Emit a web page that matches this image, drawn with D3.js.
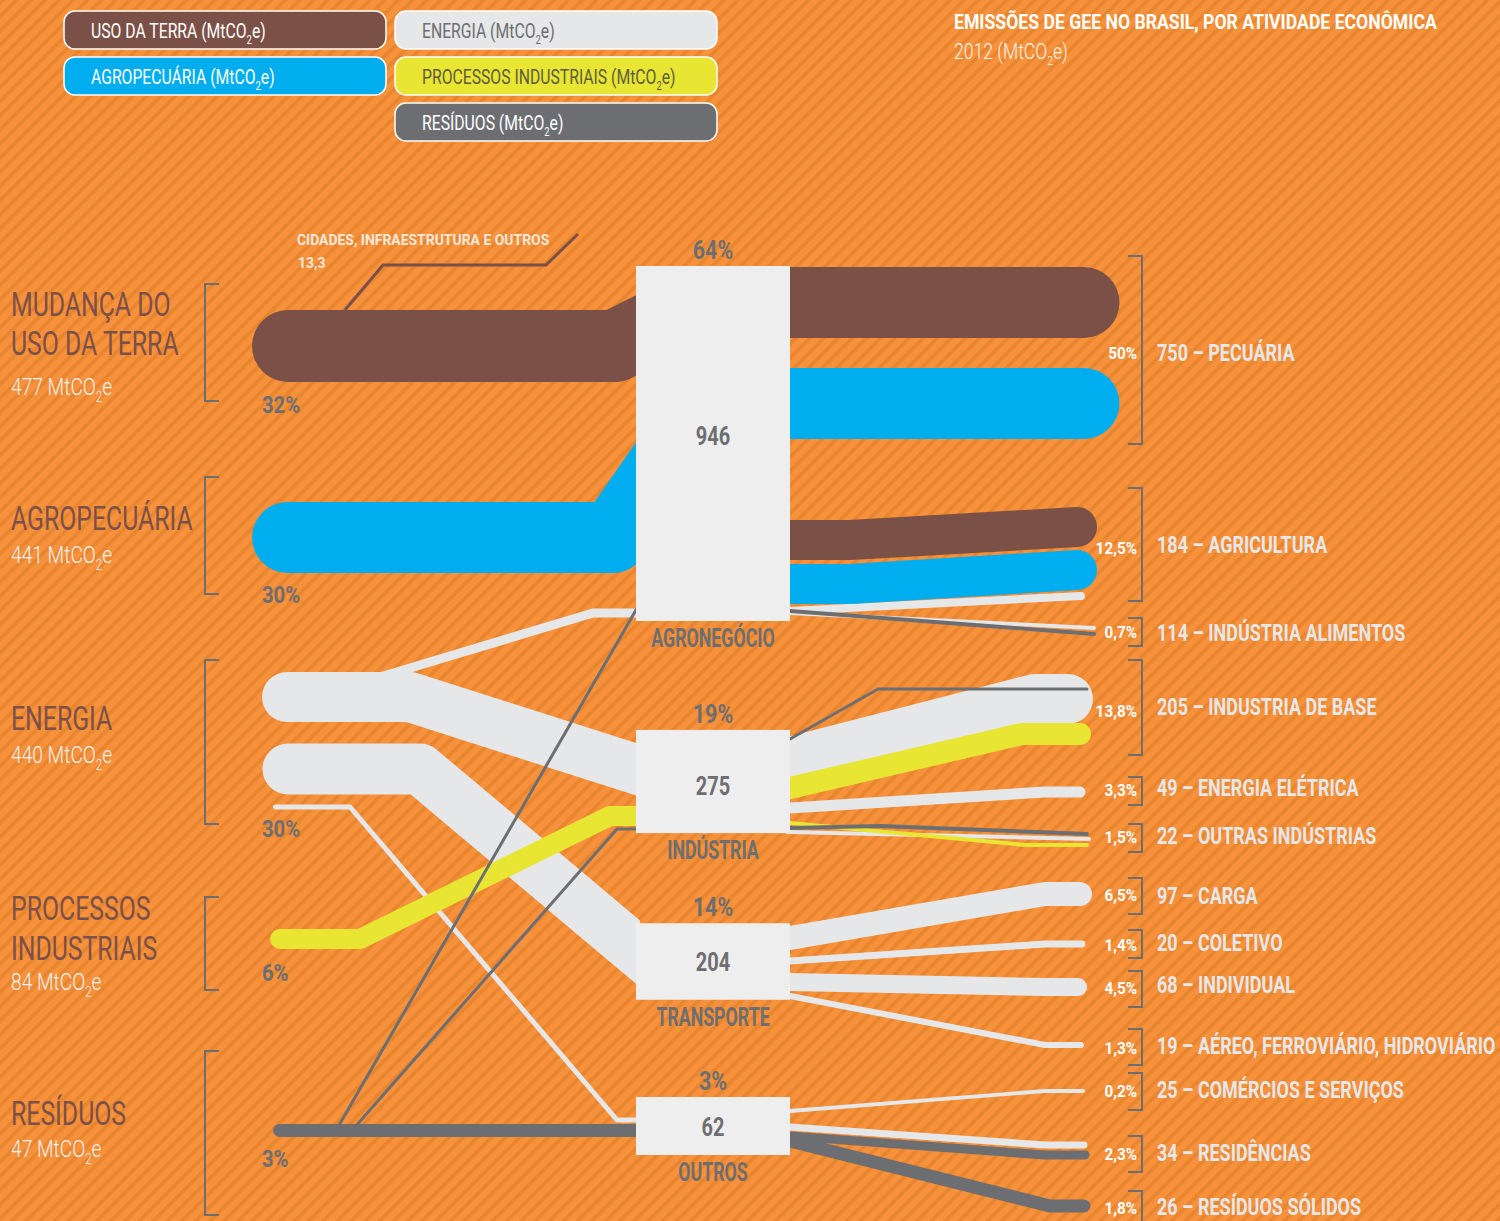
<!DOCTYPE html>
<html><head><meta charset="utf-8">
<script src="https://cdn.jsdelivr.net/npm/d3@7/dist/d3.min.js"></script>
<style>html,body{margin:0;padding:0;background:#F7913B;} svg{display:block;}</style>
</head><body>
<svg id="chart" width="1500" height="1221"></svg>
<script>
// ================= DATA =================
const gases = ["USO DA TERRA", "AGROPECUÁRIA", "ENERGIA", "PROCESSOS INDUSTRIAIS", "RESÍDUOS"];
const gasTitles = [["MUDANÇA DO", "USO DA TERRA"], ["AGROPECUÁRIA"], ["ENERGIA"], ["PROCESSOS", "INDUSTRIAIS"], ["RESÍDUOS"]];
const gasValues = [477, 441, 440, 84, 47];
const gasShares = ["32%", "30%", "30%", "6%", "3%"];

const sectors = ["AGRONEGÓCIO", "INDÚSTRIA", "TRANSPORTE", "OUTROS"];
const sectorValues = [946, 275, 204, 62];
const sectorShares = ["64%", "19%", "14%", "3%"];

const activities = ["PECUÁRIA", "AGRICULTURA", "INDÚSTRIA ALIMENTOS", "INDUSTRIA DE BASE", "ENERGIA ELÉTRICA",
  "OUTRAS INDÚSTRIAS", "CARGA", "COLETIVO", "INDIVIDUAL", "AÉREO, FERROVIÁRIO, HIDROVIÁRIO",
  "COMÉRCIOS E SERVIÇOS", "RESIDÊNCIAS", "RESÍDUOS SÓLIDOS"];
const activityValues = [750, 184, 114, 205, 49, 22, 97, 20, 68, 19, 25, 34, 26];
const activityShares = ["50%", "12,5%", "0,7%", "13,8%", "3,3%", "1,5%", "6,5%", "1,4%", "4,5%", "1,3%", "0,2%", "2,3%", "1,8%"];

const asideLabel = "CIDADES, INFRAESTRUTURA E OUTROS";
const asideValue = 13.3;

// flows: [gas index, sector index, drawn weight in MtCO2e (estimated from band widths)]
const inFlows = [
  [0, 0, 477], [1, 0, 470], [2, 0, 60], [2, 1, 331], [2, 2, 338], [2, 3, 33],
  [3, 1, 132], [4, 3, 86], [4, 0, 20], [4, 1, 20]
];
// [gas index, sector index, activity index, drawn weight]
const outFlows = [
  [0, 0, 0, 470], [1, 0, 0, 470], [0, 0, 1, 265], [1, 0, 1, 265], [2, 0, 1, 53], [2, 0, 2, 26], [4, 0, 2, 26],
  [2, 1, 3, 331], [3, 1, 3, 146], [4, 1, 3, 20], [2, 1, 4, 73], [4, 1, 5, 26], [2, 1, 5, 26], [3, 1, 5, 26],
  [2, 2, 6, 159], [2, 2, 7, 46], [2, 2, 8, 119], [2, 2, 9, 40],
  [2, 3, 10, 26], [2, 3, 11, 46], [4, 3, 11, 60], [4, 3, 12, 86]
];

// ================= STYLE / LAYOUT =================
const W = 1500, H = 1221;
const BG = "#F7913B", STRIPE = "#E8852F";
const gasColors = ["#7B5046", "#00AEEF", "#E6E7E8", "#E9E533", "#6D6E71"];
const legendTextColors = ["#FFFFFF", "#FFFFFF", "#6D6E71", "#5E5D3F", "#FFFFFF"];
const GRAY = "#6D6E71", BOX = "#EEEEEE", LIGHT = "#E6E7E8";
const FONT = "Roboto, 'Open Sans', 'DejaVu Sans', sans-serif";

const widthScale = d3.scaleLinear().domain([0, 477]).range([0, 72]);
const boxScale = d3.scaleLinear().domain([0, 946]).range([0, 355]);
const BOX_MIN = 58;
const boxL = 636, boxR = 790, boxCX = 713;
const sectorCenters = [443.5, 781.5, 961.5, 1126];
const valueOffsets = [1.5, 13, 9.5, 10];

const legendPos = [[64, 11], [64, 57], [395, 11], [395, 57], [395, 103]];

const gasRows = [
  { name: [316, 355], val: 395, pct: 413, br: [284, 401] },
  { name: [530], val: 563, pct: 603, br: [477, 594] },
  { name: [730], val: 763, pct: 837, br: [660, 824] },
  { name: [920, 960], val: 990, pct: 981, br: [897, 990] },
  { name: [1125], val: 1157, pct: 1167, br: [1051, 1215] }
];
const actLabelY = [361, 553, 641, 715, 796, 844, 904, 951, 993, 1054, 1098, 1161, 1215];
const actPctY = [359, 554, 638, 717, 796, 843, 901, 951, 994, 1054, 1097, 1160, 1214];
const actBr = [[256, 444], [488, 601], [618, 646], [660, 755], [777, 805], [824, 852], [878, 914], [930, 958],
  [971, 1007], [1029, 1065], [1073, 1110], [1136, 1172], [1191, 1235]];

const inRoutes = [
  [[288, 346], [615, 346], [636, 335.5]],
  [[287.5, 537.5], [613, 537.5], [636, 504.4]],
  [[380, 677], [593, 613], [636, 613]],
  [[287, 697], [410, 697], [636, 769.3]],
  [[288, 769], [420, 769], [636, 950.4]],
  [[275.5, 807], [350, 807], [617, 1120], [636, 1120]],
  [[280, 939], [360, 939], [610, 816], [636, 816]],
  [[279.5, 1130.5], [636, 1130.5]],
  [[338, 1127], [636, 610]],
  [[355, 1127], [617, 829], [636, 829]]
];
const outRoutes = [
  [[790, 302.5], [1084, 302.5]],
  [[790, 403.5], [1084, 403.5]],
  [[790, 540], [850, 540], [1077, 527]],
  [[790, 584], [850, 584], [1077, 570]],
  [[790, 611], [1081, 596]],
  [[790, 613], [1094, 628]],
  [[790, 611], [1094, 634]],
  [[790, 762], [1035, 699], [1068, 699]],
  [[790, 788], [1022, 734], [1080, 734]],
  [[790, 739], [878, 689], [1087, 689]],
  [[790, 808], [1045, 792], [1080, 792]],
  [[790, 828], [880, 826], [1087, 834]],
  [[790, 832], [1089, 839]],
  [[790, 823], [1025, 845], [1087, 845]],
  [[790, 938], [1045, 894], [1080, 894]],
  [[790, 961], [1045, 944], [1082, 944]],
  [[790, 982], [1045, 987], [1078, 987]],
  [[790, 996], [1045, 1045], [1081, 1045]],
  [[790, 1111], [1045, 1091], [1083, 1091]],
  [[790, 1127], [1045, 1145], [1084, 1145]],
  [[790, 1136], [1045, 1155], [1085, 1155]],
  [[790, 1141], [1050, 1206], [1084, 1206]]
];
const asideRoute = [[345, 310], [383, 265], [546, 265], [578, 234]];

// ================= DRAW =================
const svg = d3.select("#chart");
const defs = svg.append("defs");
const pat = defs.append("pattern").attr("id", "stripes").attr("patternUnits", "userSpaceOnUse")
  .attr("width", 10).attr("height", 10).attr("patternTransform", "rotate(45)");
pat.append("rect").attr("width", 10).attr("height", 10).attr("fill", BG);
pat.append("rect").attr("width", 3.6).attr("height", 10).attr("fill", STRIPE);
defs.append("clipPath").attr("id", "clipL").append("rect").attr("x", 0).attr("y", 0).attr("width", boxL + 4).attr("height", H);
defs.append("clipPath").attr("id", "clipR").append("rect").attr("x", boxR - 4).attr("y", 0).attr("width", W).attr("height", H);

svg.append("rect").attr("width", W).attr("height", H).attr("fill", "url(#stripes)");

const fmt = d3.formatLocale({ decimal: ",", thousands: ".", grouping: [3], currency: ["R$", ""] }).format(".1f");

function addText(g, x, y, str, s) {
  const t = g.append("text")
    .attr("transform", `translate(${x},${y}) scale(${s.sx},1)`)
    .attr("text-anchor", s.anchor || "start")
    .style("font-family", FONT).style("font-size", s.size + "px").style("font-weight", s.weight || 400)
    .attr("fill", s.fill);
  const i = str.indexOf("CO2");
  if (i < 0) t.text(str);
  else {
    t.append("tspan").text(str.slice(0, i + 2));
    t.append("tspan").text("2").style("font-size", (s.size * 0.6) + "px").attr("dy", s.size * 0.28);
    t.append("tspan").text(str.slice(i + 3)).attr("dy", -s.size * 0.28);
  }
  return t;
}

function unit(a, b) { const dx = b[0] - a[0], dy = b[1] - a[1], l = Math.hypot(dx, dy); return [dx / l, dy / l]; }
function extendEnd(pts, len) { const n = pts.length, u = unit(pts[n - 2], pts[n - 1]); return pts.concat([[pts[n - 1][0] + u[0] * len, pts[n - 1][1] + u[1] * len]]); }
function extendStart(pts, len) { const u = unit(pts[0], pts[1]); return [[pts[0][0] - u[0] * len, pts[0][1] - u[1] * len]].concat(pts); }

const line = d3.line();
const flowLayer = svg.append("g");
const drawOrder = [2, 3, 4, 0, 1];
drawOrder.forEach(gi => {
  inFlows.forEach((f, i) => {
    if (f[0] !== gi) return;
    flowLayer.append("path").attr("clip-path", "url(#clipL)")
      .attr("d", line(extendEnd(inRoutes[i], 120)))
      .attr("fill", "none").attr("stroke", gasColors[gi]).attr("stroke-width", widthScale(f[2]))
      .attr("stroke-linecap", "round").attr("stroke-linejoin", "round");
  });
  outFlows.forEach((f, i) => {
    if (f[0] !== gi) return;
    flowLayer.append("path").attr("clip-path", "url(#clipR)")
      .attr("d", line(extendStart(outRoutes[i], 120)))
      .attr("fill", "none").attr("stroke", gasColors[gi]).attr("stroke-width", widthScale(f[3]))
      .attr("stroke-linecap", "round").attr("stroke-linejoin", "round");
  });
  if (gi === 0) {
    flowLayer.append("path").attr("d", line(asideRoute)).attr("fill", "none")
      .attr("stroke", gasColors[0]).attr("stroke-width", 3).attr("stroke-linejoin", "miter");
  }
});

// sector boxes
const boxG = svg.append("g");
sectors.forEach((s, i) => {
  const h = Math.max(BOX_MIN, boxScale(sectorValues[i]));
  const top = sectorCenters[i] - h / 2, bot = sectorCenters[i] + h / 2;
  boxG.append("rect").attr("x", boxL).attr("y", top).attr("width", boxR - boxL).attr("height", h).attr("fill", BOX);
  addText(boxG, boxCX, top - 7, sectorShares[i], { size: 25, weight: 700, sx: 0.86, fill: GRAY, anchor: "middle" });
  addText(boxG, boxCX, sectorCenters[i] + valueOffsets[i], String(sectorValues[i]), { size: 25, weight: 700, sx: 0.8, fill: GRAY, anchor: "middle" });
  addText(boxG, boxCX, bot + 26, s, { size: 25, weight: 700, sx: 0.71, fill: GRAY, anchor: "middle" });
});

// left categories
const leftG = svg.append("g");
gases.forEach((g, i) => {
  const r = gasRows[i];
  gasTitles[i].forEach((t, k) => addText(leftG, 11, r.name[k], t, { size: 34, weight: 400, sx: 0.73, fill: "#7B5048" }));
  addText(leftG, 11, r.val, `${gasValues[i]} MtCO2e`, { size: 24, weight: 300, sx: 0.8, fill: "#F2F2F2" });
  addText(leftG, 262, r.pct, gasShares[i], { size: 23, weight: 700, sx: 0.88, fill: GRAY });
  leftG.append("path").attr("d", `M219,${r.br[0]}H205V${r.br[1]}H219`).attr("fill", "none")
    .attr("stroke", GRAY).attr("stroke-width", 2);
});

// aside label (cidades)
addText(leftG, 297, 245, asideLabel, { size: 15, weight: 700, sx: 0.93, fill: "#F4E8DC" });
addText(leftG, 298, 268, fmt(asideValue), { size: 15, weight: 700, sx: 0.93, fill: "#F4E8DC" });

// right activities
const rightG = svg.append("g");
activities.forEach((a, i) => {
  addText(rightG, 1157, actLabelY[i], `${activityValues[i]} – ${a}`, { size: 24, weight: 700, sx: 0.75, fill: LIGHT });
  addText(rightG, 1137, actPctY[i], activityShares[i], { size: 17, weight: 700, sx: 0.9, fill: "#FFFFFF", anchor: "end" });
  rightG.append("path").attr("d", `M1128,${actBr[i][0]}H1142V${actBr[i][1]}H1128`).attr("fill", "none")
    .attr("stroke", GRAY).attr("stroke-width", 2);
});

// legend
const legG = svg.append("g");
gases.forEach((g, i) => {
  const [x, y] = legendPos[i];
  legG.append("rect").attr("x", x).attr("y", y).attr("width", 322).attr("height", 38).attr("rx", 11)
    .attr("fill", gasColors[i]).attr("stroke", "#FFFFFF").attr("stroke-width", 1.5);
  addText(legG, x + 27, y + 27, `${g} (MtCO2e)`, { size: 21, weight: 400, sx: 0.75, fill: legendTextColors[i] });
});

// title
addText(svg, 954, 29, "EMISSÕES DE GEE NO BRASIL, POR ATIVIDADE ECONÔMICA", { size: 21, weight: 700, sx: 0.84, fill: "#FFFFFF" });
addText(svg, 954, 59, "2012 (MtCO2e)", { size: 22, weight: 300, sx: 0.8, fill: "#FFF3E8" });
</script>
</body></html>
